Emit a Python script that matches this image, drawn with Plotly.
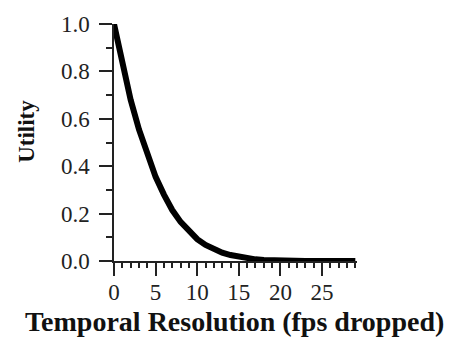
import plotly.graph_objects as go

# Utility as a function of frames per second dropped
fps_dropped = list(range(0, 30))
utility = [1.00, 0.83, 0.68, 0.555, 0.445, 0.355, 0.28, 0.215, 0.165, 0.125,
           0.092, 0.068, 0.049, 0.035, 0.025, 0.017, 0.011, 0.007, 0.004, 0.002,
           0.001, 0.0, 0.0, 0.0, 0.0, 0.0, 0.0, 0.0, 0.0, 0.0]

x_tick_vals = [0, 5, 10, 15, 20, 25]
y_tick_vals = [0.0, 0.2, 0.4, 0.6, 0.8, 1.0]
y_tick_text = ["0.0", "0.2", "0.4", "0.6", "0.8", "1.0"]

FONT = "Liberation Serif, Times New Roman, serif"

fig = go.Figure()
fig.add_trace(go.Scatter(
    x=fps_dropped, y=utility, mode="lines",
    line=dict(color="black", width=6),
    cliponaxis=False, showlegend=False,
))

axis_common = dict(
    showgrid=False, zeroline=False, showline=True,
    linecolor="#222", linewidth=1.5,
    ticks="outside", tickcolor="#222", tickwidth=1.5,
    tickfont=dict(family=FONT, size=23, color="#222"),
)

fig.update_xaxes(
    range=[0, 29.2], tickvals=x_tick_vals, ticklen=13,
    ticklabelstandoff=-3,
    minor=dict(dtick=1, ticks="outside", ticklen=5, tickcolor="#222", tickwidth=1.5),
    **axis_common,
)
fig.update_yaxes(
    range=[0, 1], tickvals=y_tick_vals, ticktext=y_tick_text, ticklen=13,
    ticklabelstandoff=5,
    minor=dict(dtick=0.1, ticks="outside", ticklen=6, tickcolor="#222", tickwidth=1.5),
    **axis_common,
)

fig.add_annotation(
    text="<b>Temporal Resolution (fps dropped)</b>",
    xref="paper", yref="paper", x=0.5, y=-0.255, xanchor="center", yanchor="middle",
    showarrow=False, font=dict(family=FONT, size=28, color="#111"),
    xshift=-1,
)
fig.add_annotation(
    text="<b>Utility</b>",
    xref="paper", yref="paper", x=0, y=0.545, xanchor="center", yanchor="middle",
    xshift=-87, textangle=-90,
    showarrow=False, font=dict(family=FONT, size=23, color="#111"),
)

fig.update_layout(
    width=449, height=346,
    margin=dict(l=114, r=92, t=17, b=85),
    paper_bgcolor="white", plot_bgcolor="white",
)

fig.write_html("out.html")
